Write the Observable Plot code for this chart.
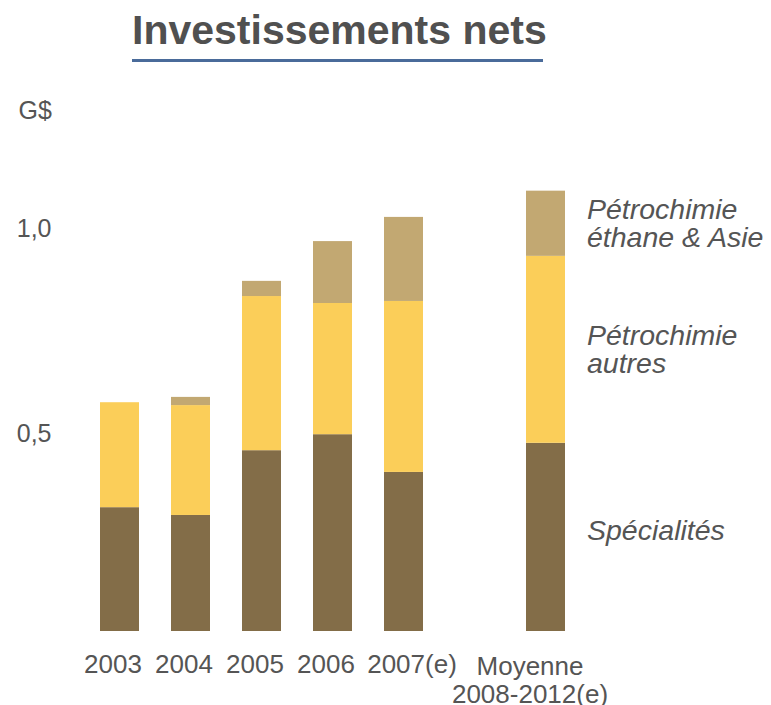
<!DOCTYPE html>
<html>
<head>
<meta charset="utf-8">
<script src="https://cdn.jsdelivr.net/npm/d3@7"></script>
<script src="https://cdn.jsdelivr.net/npm/@observablehq/plot@0.6"></script>
<style>
  html, body { margin: 0; padding: 0; background: #fff; }
  body { width: 771px; height: 705px; overflow: hidden; font-family: "Liberation Sans", Arial, sans-serif; }
  #header { position: relative; height: 80px; }
  #title { position: absolute; left: 132px; top: 10px; font-size: 41px; line-height: 41px; font-weight: bold; color: #505050; white-space: nowrap; }
  #rule { position: absolute; left: 132px; top: 59px; width: 411px; height: 3px; background: #4a6b9a; }
  #chart svg { display: block; }
</style>
</head>
<body>
<div id="header"><span id="title">Investissements nets</span><div id="rule"></div></div>
<div id="chart"></div>
<script>
const categories = ["2003", "2004", "2005", "2006", "2007(e)", "", "Moyenne\n2008-2012(e)"];
const barCategories = ["2003", "2004", "2005", "2006", "2007(e)", "Moyenne\n2008-2012(e)"];
const series = ["Spécialités", "Pétrochimie autres", "Pétrochimie éthane & Asie"];
const seriesLabels = ["Spécialités", "Pétrochimie\nautres", "Pétrochimie\néthane & Asie"];
const specialites = [0.302, 0.283, 0.441, 0.480, 0.388, 0.459];
const petroAutres = [0.256, 0.268, 0.376, 0.320, 0.417, 0.456];
const petroEthane = [0.000, 0.020, 0.037, 0.151, 0.205, 0.159];
const yTicks = [0.5, 1.0];
const colors = ["#836d48", "#fbce59", "#c2a872"];

const values = [specialites, petroAutres, petroEthane];
const rows = [];
series.forEach((s, si) => {
  barCategories.forEach((c, ci) => {
    rows.push({category: c, series: s, value: values[si][ci]});
  });
});

// label anchors: the last bar, middle of each segment
const lastIdx = barCategories.length - 1;
let cum = 0;
const labelRows = series.map((s, si) => {
  const v = values[si][lastIdx];
  const mid = cum + v / 2;
  cum += v;
  return {category: barCategories[lastIdx], y: mid, label: seriesLabels[si]};
});
labelRows[0].y = specialites[lastIdx] * 0.535;

const textColor = "#555555";

const chart = Plot.plot({
  width: 771,
  height: 625,
  marginLeft: 68,
  marginRight: 173,
  marginTop: 59,
  marginBottom: 74,
  style: {fontFamily: "'Liberation Sans', Arial, sans-serif", fontSize: "25px", color: textColor, background: "#fff"},
  x: {domain: categories, padding: 0.45, label: null},
  y: {domain: [0, 1.2], label: null},
  color: {domain: series, range: colors},
  marks: [
    Plot.barY(rows, Plot.stackY({x: "category", y: "value", fill: "series", order: series})),
    Plot.axisY({ticks: yTicks, tickSize: 0, tickPadding: 17, dy: 7, fontSize: 25, fill: textColor,
      tickFormat: d => d.toFixed(1).replace(".", ","), label: null}),
    Plot.axisX({ticks: categories.slice(0, 4), tickSize: 0, tickPadding: 23, fontSize: 26, fill: textColor, label: null, dx: -7}),
    Plot.axisX({ticks: [categories[4]], tickSize: 0, tickPadding: 23, fontSize: 26, fill: textColor, label: null, dx: 8}),
    Plot.axisX({ticks: [categories[6]], tickSize: 0, tickPadding: 23, fontSize: 26, fill: textColor, label: null, dx: -16, lineHeight: 1.1}),
    Plot.text(["G$"], {frameAnchor: "top-left", dx: -50, dy: -38, textAnchor: "start", fontSize: 25, fill: textColor}),
    Plot.text(labelRows, {x: "category", y: "y", text: "label", dx: 41, textAnchor: "start",
      fontSize: 28.5, fontStyle: "italic", fill: textColor, lineHeight: 0.98})
  ]
});
document.getElementById("chart").appendChild(chart);
</script>
</body>
</html>
